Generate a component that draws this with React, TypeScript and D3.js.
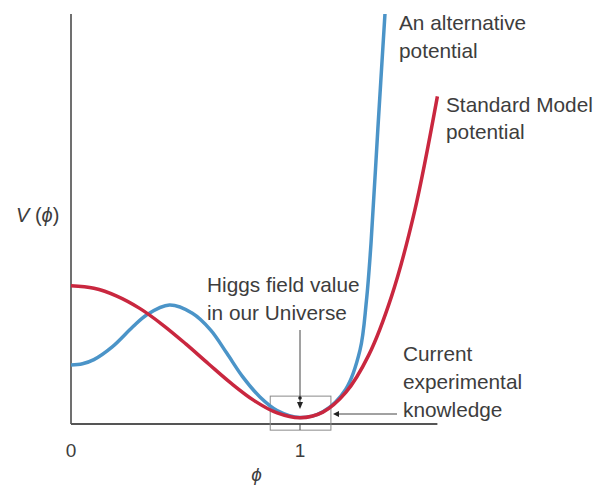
import React from "react";
import * as d3 from "d3";

// field value phi (x) and potential V (y, arbitrary units)
const smPhi = [0, 0.1, 0.2, 0.3, 0.4, 0.5, 0.6, 0.7, 0.8, 0.9, 1.0, 1.1, 1.2, 1.3, 1.4, 1.5, 1.6];
const smV = [3.37, 3.31, 3.12, 2.82, 2.42, 1.96, 1.47, 0.99, 0.57, 0.27, 0.15, 0.29, 0.77, 1.68, 3.12, 5.18, 7.99];

const altPhi = [0, 0.05, 0.1, 0.18, 0.27, 0.33, 0.43, 0.53, 0.61, 0.68, 0.75, 0.825, 0.9, 1.0, 1.1, 1.2, 1.262, 1.29, 1.31, 1.34, 1.371];
const altV = [1.44, 1.47, 1.57, 1.88, 2.37, 2.66, 2.9, 2.7, 2.29, 1.73, 1.15, 0.66, 0.33, 0.16, 0.3, 0.85, 1.8, 3.0, 4.4, 7.2, 10];

const xTicks = [0, 1];

const width = 596;
const height = 488;

export default function App() {
  const x = d3.scaleLinear().domain([0, 1]).range([71, 300]);
  const y = d3.scaleLinear().domain([0, 10]).range([424, 14]);

  const line = d3
    .line<[number, number]>()
    .x((d) => x(d[0]))
    .y((d) => y(d[1]))
    .curve(d3.curveCatmullRom.alpha(0.5));

  const sm = smPhi.map((p, i) => [p, smV[i]] as [number, number]);
  const alt = altPhi.map((p, i) => [p, altV[i]] as [number, number]);

  const font = "'Liberation Sans', Arial, sans-serif";
  const textColor = "#3d3d3d";
  const axisColor = "#707070";

  return (
    <svg
      width={width}
      height={height}
      style={{ position: "absolute", left: 0, top: 0, background: "#fff" }}
      fontFamily={font}
    >
      {/* axes */}
      <line x1={x(0)} x2={x(0)} y1={y(10)} y2={y(0)} stroke={axisColor} strokeWidth={2} />
      <line x1={x(0)} x2={x(1.6)} y1={y(0)} y2={y(0)} stroke="#555" strokeWidth={2} />
      {xTicks.map((t) => (
        <text key={t} x={x(t)} y={457} textAnchor="middle" fontSize={19} fill={textColor}>
          {t}
        </text>
      ))}
      <text x={x(0.81)} y={481} textAnchor="middle" fontSize={19} fontStyle="italic" fill={textColor}>
        ϕ
      </text>
      <text x={16} y={222} fontSize={20} fill={textColor}>
        <tspan fontStyle="italic">V</tspan>
        <tspan> (</tspan>
        <tspan fontStyle="italic">ϕ</tspan>
        <tspan>)</tspan>
      </text>

      {/* experimental box */}
      <rect
        x={x(0.87)}
        y={y(0.68)}
        width={x(1.135) - x(0.87)}
        height={y(-0.15) - y(0.68)}
        fill="none"
        stroke="#8a8a8a"
        strokeWidth={1}
      />

      {/* curves */}
      <path d={line(alt) ?? ""} fill="none" stroke="#4b94c8" strokeWidth={3.5} />
      <path d={line(sm) ?? ""} fill="none" stroke="#c9273f" strokeWidth={3.5} />

      {/* Higgs value pointer */}
      <line x1={x(1)} x2={x(1)} y1={330} y2={404} stroke="#444" strokeWidth={1} />
      <path d={`M${x(1) - 3},402 L${x(1) + 3},402 L${x(1)},409 Z`} fill="#222" />
      <circle cx={x(1)} cy={398} r={1.8} fill="#222" />
      <line x1={x(1)} x2={x(1)} y1={y(0)} y2={430} stroke="#444" strokeWidth={1} />

      {/* experimental pointer */}
      <line x1={337} x2={397} y1={414} y2={414} stroke="#444" strokeWidth={1} />
      <path d="M333,414 L339,411 L339,417 Z" fill="#222" />

      {/* labels */}
      <text fontSize={20.8} fill={textColor}>
        <tspan x={399} y={30}>An alternative</tspan>
        <tspan x={399} y={58}>potential</tspan>
        <tspan x={446} y={112}>Standard Model</tspan>
        <tspan x={446} y={139}>potential</tspan>
        <tspan x={207} y={292}>Higgs field value</tspan>
        <tspan x={207} y={320}>in our Universe</tspan>
        <tspan x={403} y={361}>Current</tspan>
        <tspan x={403} y={389}>experimental</tspan>
        <tspan x={403} y={417}>knowledge</tspan>
      </text>
    </svg>
  );
}
